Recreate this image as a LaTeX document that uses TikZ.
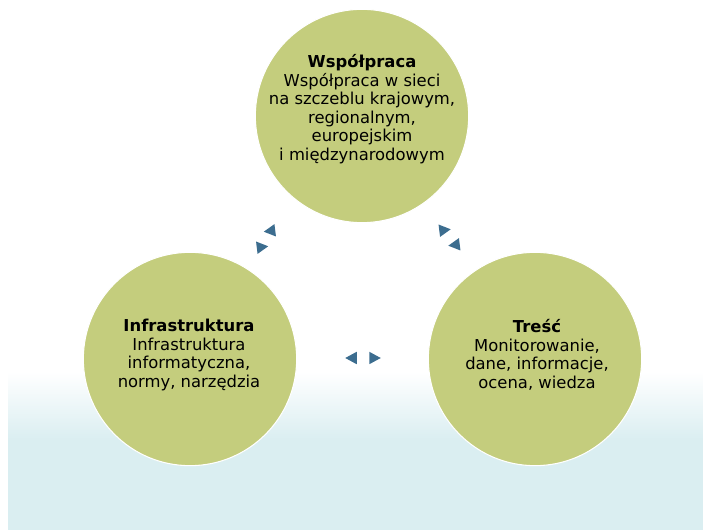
\documentclass[tikz,border=0pt]{standalone}
\usepackage{fontspec}
\setmainfont{DejaVu Sans}
\usepackage{tikz}
\usetikzlibrary{positioning}
\definecolor{clolive}{HTML}{C4CD7D}
\definecolor{clblue}{HTML}{3C6D8F}
\definecolor{clsky}{HTML}{DAEEF1}

\begin{document}
\begin{tikzpicture}[x=0.75pt,y=-0.75pt,
  disc/.style={circle,draw=white,line width=0.8pt,fill=clolive,minimum size=160pt,inner sep=0pt},
  txt/.style={align=center,font=\fontsize{12.3}{13.9}\selectfont,text=black},
  tri/.pic={\fill[clblue] (-5.75,0) -- (5.75,-6.25) -- (5.75,6.25) -- cycle;}]
\useasboundingbox (0,0) rectangle (703,530);
\shade[top color=white,bottom color=clsky] (8,372) rectangle (703,440);
\fill[clsky] (8,440) rectangle (703,530);
\node[disc](wsp) at (362,116){};
\node[disc](inf) at (190,359){};
\node[disc](tre) at (535,359){};
\node[txt](wsptxt) at (362,109){\textbf{Współpraca}\\Współpraca w sieci\\na szczeblu krajowym,\\regionalnym,\\europejskim\\i międzynarodowym};
\node[txt](inftxt) at (189,355){\textbf{Infrastruktura}\\Infrastruktura\\informatyczna,\\normy, narzędzia};
\node[txt](tretxt) at (537,355){\textbf{Treść}\\Monitorowanie,\\dane, informacje,\\ocena, wiedza};
\pic[rotate=7] at (269.5,231){tri};
\pic[rotate=187] at (262.5,247){tri};
\pic[rotate=187] at (445,230){tri};
\pic[rotate=7] at (454,245){tri};
\pic at (351,358){tri};
\pic[rotate=180] at (375,358){tri};
\end{tikzpicture}
\end{document}
